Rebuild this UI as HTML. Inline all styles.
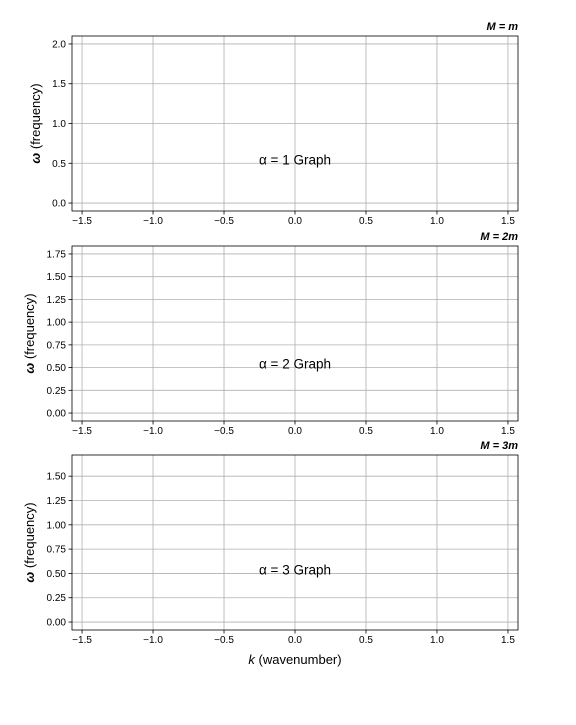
<!DOCTYPE html>
<html><head><meta charset="utf-8"><style>
body{margin:0;background:#fff;font-family:"Liberation Sans","DejaVu Sans",sans-serif;}
svg text{font-family:"Liberation Sans","DejaVu Sans",sans-serif;}
</style></head><body>
<svg id="fig" width="576" height="720" xmlns="http://www.w3.org/2000/svg"></svg>
<script>
const xTicks = [-1.5, -1.0, -0.5, 0.0, 0.5, 1.0, 1.5];
const xTickLabels = ["\u22121.5", "\u22121.0", "\u22120.5", "0.0", "0.5", "1.0", "1.5"];
const panelTitles = ["M = m", "M = 2m", "M = 3m"];
const panelLabels = ["\u03b1 = 1 Graph", "\u03b1 = 2 Graph", "\u03b1 = 3 Graph"];
const labelY = [0.5, 0.5, 0.5];
const yMaxes = [2.0, 1.75, 1.636];
const yTicks1 = [0.0, 0.5, 1.0, 1.5, 2.0];
const yTicks2 = [0.0, 0.25, 0.5, 0.75, 1.0, 1.25, 1.5, 1.75];
const yTicks3 = [0.0, 0.25, 0.5, 0.75, 1.0, 1.25, 1.5];
const yTickSets = [yTicks1, yTicks2, yTicks3];
const yDigits = [1, 2, 2];

const svg = document.getElementById('fig');
const NS = 'http://www.w3.org/2000/svg';
function mk(tag, attrs, parent){const e=document.createElementNS(NS,tag);for(const k in attrs)e.setAttribute(k,attrs[k]);(parent||svg).appendChild(e);return e;}
const L=72,R=518,tops=[36,246,455],H=175;
const xmin=-Math.PI/2,xmax=Math.PI/2;
const xs=v=>L+(v-xmin)/(xmax-xmin)*(R-L);
for(let p=0;p<3;p++){
  const T=tops[p],B=T+H,M=yMaxes[p],lo=-0.05*M,hi=1.05*M;
  const ys=v=>B-(v-lo)/(hi-lo)*H;
  const g=mk('g',{});
  
  
  xTicks.forEach((t,i)=>{
    const x=xs(t);
    const gl=mk('line',{x1:x,x2:x,y1:T,y2:B,stroke:'#b0b0b0','stroke-width':0.8},g);
    
    
    mk('line',{x1:x,x2:x,y1:B,y2:B+3.5,stroke:'#000','stroke-width':0.8},g);
    const tx=mk('text',{x:x,y:B+13,'font-size':10,'text-anchor':'middle'},g);
    tx.textContent=xTickLabels[i];
    
    
  });
  yTickSets[p].forEach(t=>{
    const y=ys(t);
    const gl=mk('line',{x1:L,x2:R,y1:y,y2:y,stroke:'#b0b0b0','stroke-width':0.8},g);
    
    
    mk('line',{x1:L-3.5,x2:L,y1:y,y2:y,stroke:'#000','stroke-width':0.8},g);
    const tx=mk('text',{x:L-6,y:y+3.5,'font-size':10,'text-anchor':'end'},g);
    tx.textContent=t.toFixed(yDigits[p]);
    
    
  });
  const fr=mk('rect',{x:L,y:T,width:R-L,height:H,fill:'none',stroke:'#000','stroke-width':0.8},g);
  
  
  const yl=mk('text',{x:0,y:0,'font-size':13,'text-anchor':'middle',transform:`translate(${p==0?40:34},${T+H/2}) rotate(-90)`},g);
  yl.innerHTML='<tspan font-style="italic" font-weight="bold">ω</tspan> (frequency)';
  
  
  const ti=mk('text',{x:R,y:T-6,'font-size':11,'text-anchor':'end','font-style':'italic','font-weight':'bold'},g);
  ti.textContent=panelTitles[p];
  
  
  const lb=mk('text',{x:xs(0),y:ys(labelY[p])+1,'font-size':13.5,'text-anchor':'middle'},g);
  lb.textContent=panelLabels[p];
  
  
}
const xl=mk('text',{x:295,y:664,'font-size':13,'text-anchor':'middle'});
xl.innerHTML='<tspan font-style="italic">k</tspan> (wavenumber)';


</script>
</body></html>
